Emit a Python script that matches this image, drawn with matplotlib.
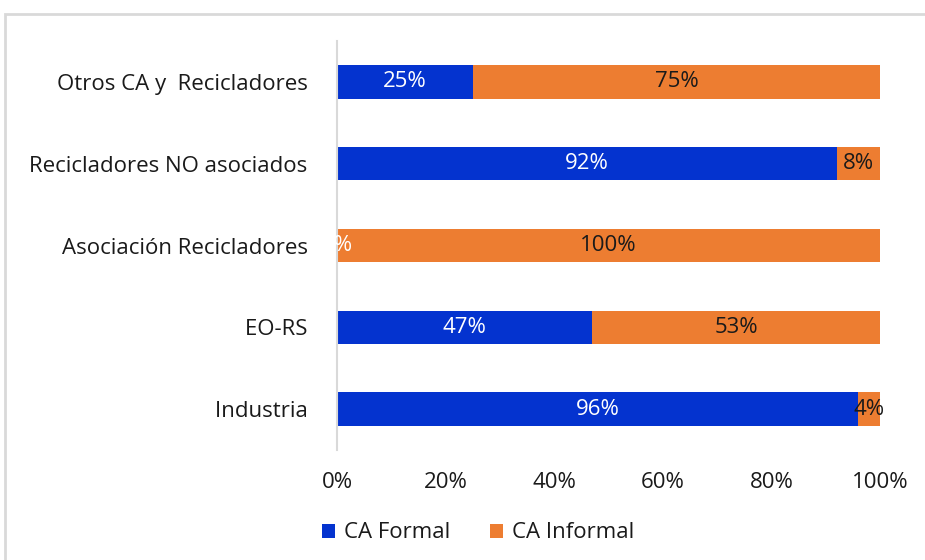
import matplotlib.pyplot as plt
from matplotlib.patches import Rectangle

# Share of collected material by channel (bottom to top)
categories = ["Industria ", "EO-RS ", "Asociación Recicladores ",
              "Recicladores NO asociados ", "Otros CA y  Recicladores "]
formal = [96, 47, 0, 92, 25]
informal = [4, 53, 100, 8, 75]
x_ticks = [0, 20, 40, 60, 80, 100]

blue = "#0433CF"
orange = "#ED7D31"
fs = 16

plt.rcParams["font.family"] = ["Open Sans", "DejaVu Sans"]

fig = plt.figure(figsize=(9.25, 5.6), dpi=100)
ax = fig.add_axes([337 / 925, 1 - 450 / 560, 543 / 925, 409 / 560])

y = range(len(categories))
b1 = ax.barh(y, formal, height=0.41, color=blue, label="CA Formal")
b2 = ax.barh(y, informal, left=formal, height=0.41, color=orange, label="CA Informal")

for rect, v in zip(b1, formal):
    ax.text(rect.get_x() + rect.get_width() / 2, rect.get_y() + rect.get_height() / 2,
            f"{v}%", ha="center", va="center", color="white", fontsize=fs)
for rect, v in zip(b2, informal):
    ax.text(rect.get_x() + rect.get_width() / 2, rect.get_y() + rect.get_height() / 2,
            f"{v}%", ha="center", va="center", color="#1A1A1A", fontsize=fs)

ax.set_xlim(0, 100)
ax.set_ylim(-0.5, 4.5)
ax.set_yticks(list(y))
ax.set_yticklabels(categories, fontsize=fs, color="#1A1A1A")
ax.set_xticks(x_ticks)
ax.set_xticklabels([f"{t}%" for t in x_ticks], fontsize=fs, color="#1A1A1A")
ax.tick_params(axis="both", length=0)
ax.tick_params(axis="y", pad=17)
ax.tick_params(axis="x", pad=16)

for side in ["top", "right", "bottom"]:
    ax.spines[side].set_visible(False)
ax.spines["left"].set_color("#D9D9D9")
ax.spines["left"].set_linewidth(1.5)

fig.legend(handles=[b1, b2], loc="center", bbox_to_anchor=(478 / 925, 1 - 533 / 560),
           ncol=2, frameon=False, fontsize=fs, handlelength=0.6, handleheight=0.6,
           handletextpad=0.4, columnspacing=1.8, labelcolor="#1A1A1A")

# Chart area border
fig.patches.append(Rectangle((5 / 925, -0.1), 1.2, 1 - 14 / 560 + 0.1,
                             transform=fig.transFigure, fill=False,
                             edgecolor="#D9D9D9", linewidth=2))

fig.savefig("out.png", dpi=100)
